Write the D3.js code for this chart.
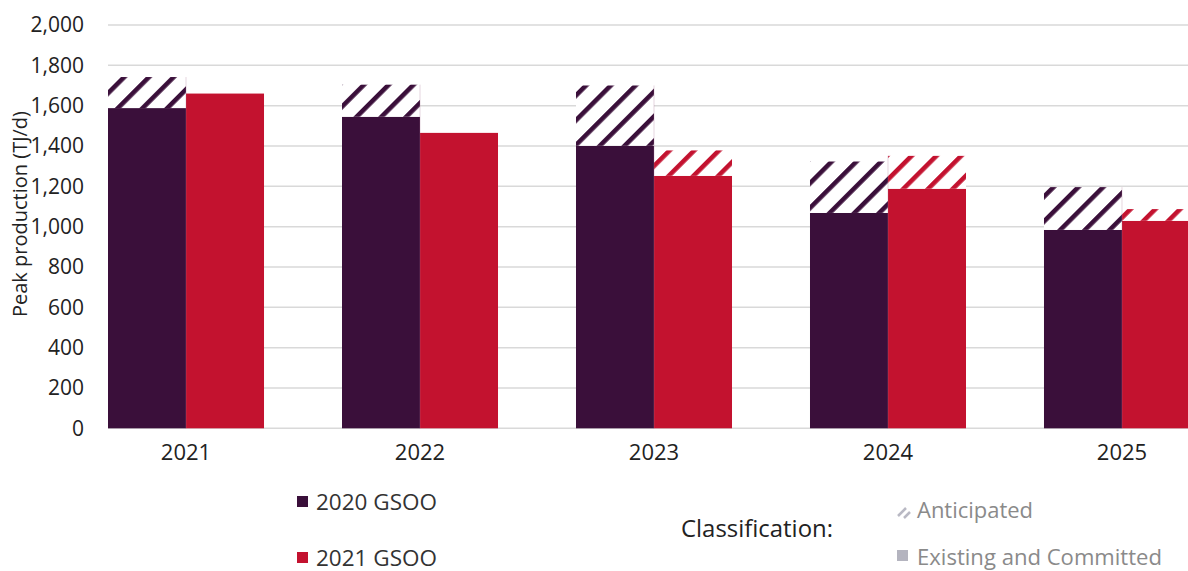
<!DOCTYPE html>
<html>
<head>
<meta charset="utf-8">
<script src="https://cdn.jsdelivr.net/npm/d3@7"></script>
<style>
  html, body { margin: 0; padding: 0; background: #fff; }
  svg { display: block; font-family: "Open Sans", "Noto Sans", sans-serif; }
</style>
</head>
<body>
<svg id="chart" width="1188" height="571"></svg>
<script>
// Peak production outlook (TJ/d) by year, 2020 vs 2021 GSOO
const years = ["2021", "2022", "2023", "2024", "2025"];
const series = ["2020 GSOO", "2021 GSOO"];
const seriesColors = ["#3a0f3a", "#c3122f"];
// Existing and committed production
const existing2020 = [1588, 1545, 1401, 1068, 984];
const existing2021 = [1660, 1465, 1252, 1188, 1029];
// Anticipated production stacked on top
const anticipated2020 = [154, 159, 299, 255, 212];
const anticipated2021 = [0, 0, 126, 163, 58];
const yTicks = [0, 200, 400, 600, 800, 1000, 1200, 1400, 1600, 1800, 2000];

const existing = [existing2020, existing2021];
const anticipated = [anticipated2020, anticipated2021];

const FONT = "Open Sans, Noto Sans, sans-serif";
const svg = d3.select("#chart");
const W = 1188;

const y = d3.scaleLinear().domain([0, 2000]).range([428.3, 25]);
const x = d3.scaleBand().domain(years).range([69, 1239]).paddingInner(0.3333).paddingOuter(0.1667);
const xs = d3.scaleBand().domain(series).range([0, x.bandwidth()]);

// Stripe patterns for anticipated segments
const defs = svg.append("defs");
series.forEach((s, i) => {
  const p = defs.append("pattern")
    .attr("id", "hatch" + i)
    .attr("patternUnits", "userSpaceOnUse")
    .attr("width", 17.5).attr("height", 17.5)
    .attr("patternTransform", "rotate(45)");
  p.append("rect").attr("width", 17.5).attr("height", 17.5).attr("fill", "#fff");
  p.append("rect").attr("x", 0).attr("width", 4.6).attr("height", 17.5).attr("fill", seriesColors[i]);
});

// Gridlines
svg.append("g")
  .selectAll("line")
  .data(yTicks)
  .join("line")
  .attr("x1", 108).attr("x2", W)
  .attr("y1", d => y(d)).attr("y2", d => y(d))
  .attr("stroke", "#d9d9d9").attr("stroke-width", 1.5);

// Y axis labels
const yAxis = d3.axisLeft(y).tickValues(yTicks).tickFormat(d3.format(",")).tickSize(0).tickPadding(0);
const yg = svg.append("g").attr("transform", "translate(84,0)").call(yAxis)
  .attr("font-family", FONT).attr("font-size", 21);
yg.select(".domain").remove();
yg.selectAll("text").attr("fill", "#222");

// Bars
years.forEach((yr, j) => {
  series.forEach((s, i) => {
    const bx = x(yr) + xs(s);
    const e = existing[i][j], a = anticipated[i][j];
    svg.append("rect")
      .attr("x", bx).attr("width", xs.bandwidth())
      .attr("y", y(e)).attr("height", y(0) - y(e))
      .attr("fill", seriesColors[i]);
    if (a > 0) {
      svg.append("rect")
        .attr("x", bx).attr("width", xs.bandwidth())
        .attr("y", y(e + a)).attr("height", y(e) - y(e + a))
        .attr("fill", `url(#hatch${i})`);
    }
  });
  // thin separator between the two bars
  svg.append("line")
    .attr("x1", x(yr) + xs.bandwidth()).attr("x2", x(yr) + xs.bandwidth())
    .attr("y1", y(Math.max(existing[0][j] + anticipated[0][j], existing[1][j] + anticipated[1][j]))).attr("y2", y(0))
    .attr("stroke", "#b07a99").attr("stroke-width", 0.6).attr("opacity", 0.5);
});

// X axis labels
const xAxis = d3.axisBottom(x).tickSize(0).tickPadding(0);
const xg = svg.append("g").attr("transform", "translate(0,460)").call(xAxis)
  .attr("font-family", FONT).attr("font-size", 22);
xg.select(".domain").remove();
xg.selectAll("text").attr("fill", "#222").attr("dy", 0);

// Y axis title
svg.append("text")
  .attr("transform", "translate(27,214) rotate(-90)")
  .attr("text-anchor", "middle")
  .attr("font-size", 20).attr("fill", "#222")
  .text("Peak production (TJ/d)");

// Series legend
const legY = [502, 558];
series.forEach((s, i) => {
  svg.append("rect").attr("x", 297).attr("y", legY[i] - 6).attr("width", 11).attr("height", 11).attr("fill", seriesColors[i]);
  svg.append("text").attr("x", 316).attr("y", legY[i] + 8)
    .attr("font-size", 21).attr("fill", "#333")
    .attr("textLength", 121).attr("lengthAdjust", "spacingAndGlyphs")
    .text(s);
});

// Classification legend
svg.append("text").attr("x", 681).attr("y", 537)
  .attr("font-size", 23).attr("fill", "#222")
  .attr("textLength", 152).attr("lengthAdjust", "spacingAndGlyphs")
  .text("Classification:");
svg.append("path").attr("d", "M898,516 L906,508 M904,518 L910,512")
  .attr("stroke", "#b9b9c4").attr("stroke-width", 2.5);
svg.append("text").attr("x", 917).attr("y", 518)
  .attr("font-size", 21).attr("fill", "#8a8a8a")
  .attr("textLength", 116).attr("lengthAdjust", "spacingAndGlyphs")
  .text("Anticipated");
svg.append("rect").attr("x", 897).attr("y", 550).attr("width", 11).attr("height", 11).attr("fill", "#b4b4bf");
svg.append("text").attr("x", 917).attr("y", 565)
  .attr("font-size", 21).attr("fill", "#8a8a8a")
  .attr("textLength", 245).attr("lengthAdjust", "spacingAndGlyphs")
  .text("Existing and Committed");
</script>
</body>
</html>
